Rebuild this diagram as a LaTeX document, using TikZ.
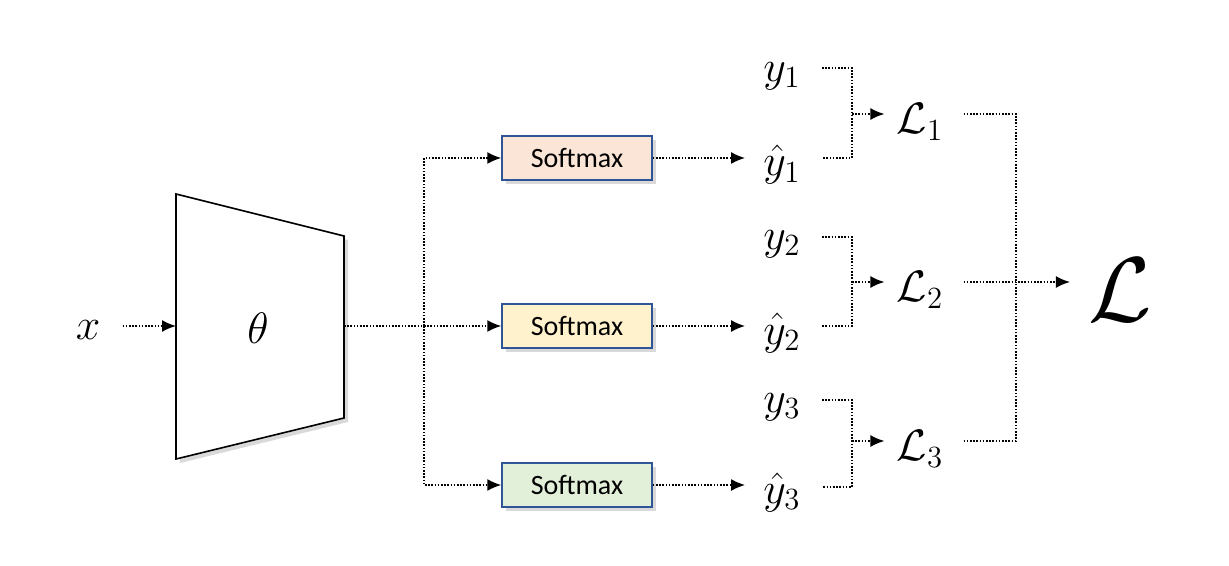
\RequirePackage{fix-cm}
\documentclass[tikz,border=0pt]{standalone}
\usepackage{amsmath}
\usepackage{amssymb}
\usepackage{fontspec}
\setmainfont{Carlito}
\usetikzlibrary{positioning, arrows.meta, shadows}

\definecolor{smborder}{RGB}{47,85,151}
\definecolor{smred}{RGB}{251,229,214}
\definecolor{smyellow}{RGB}{255,242,204}
\definecolor{smgreen}{RGB}{226,240,217}

\begin{document}
\begin{tikzpicture}[x=0.5pt, y=-0.5pt,
  flow/.style={line width=0.8pt, dash pattern=on 0.8pt off 0.8pt},
  arr/.style={flow, -{Latex[length=7pt,width=6pt]}},
  smbox/.style={draw=smborder, line width=0.7pt, minimum width=75pt,
    minimum height=22pt, font=\fontsize{14}{16}\selectfont,
    drop shadow={opacity=0.3, shadow xshift=2pt, shadow yshift=-2pt}},
  var/.style={font=\fontsize{22}{24}\selectfont, inner sep=1pt}]

\useasboundingbox (0,0) rectangle (1229,566);

% encoder
\draw[line width=0.8pt, fill=white,
  drop shadow={opacity=0.3, shadow xshift=2pt, shadow yshift=-2pt}]
  (176,194) -- (344,236) -- (344,418) -- (176,459) -- cycle;
\node[var] (theta) at (258,328) {$\theta$};
\coordinate (encin) at (176,326);
\coordinate (encout) at (344,326);
\coordinate (split) at (424,326);

\node[var] (x) at (88,330) {$x$};
\draw[arr, shorten <=10pt] (x.east |- encin) -- (encin);
\draw[flow] (encout) -- (split);

% softmax heads
\node[smbox, fill=smred] (sm1) at (577,158) {Softmax};
\node[smbox, fill=smyellow] (sm2) at (577,326) {Softmax};
\node[smbox, fill=smgreen] (sm3) at (577,485) {Softmax};

\draw[arr] (split) |- (sm1);
\draw[arr] (split) -- (sm2);
\draw[arr] (split) |- (sm3);

% targets and predictions
\node[var] (y1) at (782,76) {$y_1$};
\node[var] (yh1) at (782,165) {$\hat{y}_1$};
\node[var] (y2) at (782,244) {$y_2$};
\node[var] (yh2) at (782,333) {$\hat{y}_2$};
\node[var] (y3) at (782,407) {$y_3$};
\node[var] (yh3) at (782,492) {$\hat{y}_3$};

\draw[arr, shorten >=8pt] (sm1) -- (sm1 -| yh1.west);
\draw[arr, shorten >=8pt] (sm2) -- (sm2 -| yh2.west);
\draw[arr, shorten >=8pt] (sm3) -- (sm3 -| yh3.west);

% losses
\node[var] (L1) at (920,122) {$\mathcal{L}_1$};
\node[var] (L2) at (920,290) {$\mathcal{L}_2$};
\node[var] (L3) at (920,449) {$\mathcal{L}_3$};

\coordinate (j1) at (852,114);
\coordinate (j2) at (852,282);
\coordinate (j3) at (852,441);

\draw[flow] (822,68) -| (j1) |- (822,158);
\draw[flow] (822,237) -| (j2) |- (822,326);
\draw[flow] (822,400) -| (j3) |- (822,487);

\draw[arr, shorten >=5pt] (j1) -- (j1 -| L1.west);
\draw[arr, shorten >=5pt] (j2) -- (j2 -| L2.west);
\draw[arr, shorten >=5pt] (j3) -- (j3 -| L3.west);

% total loss
\node[font=\fontsize{46}{50}\selectfont, inner sep=1pt] (L) at (1120,290) {$\mathcal{L}$};
\coordinate (m) at (1016,282);

\draw[flow, shorten <=9pt] (L1.east |- j1) -| (m);
\draw[flow, shorten <=9pt] (L3.east |- j3) -| (m);
\draw[arr, shorten <=9pt, shorten >=8pt] (L2.east |- m) -- (L.west |- m);

\end{tikzpicture}
\end{document}
